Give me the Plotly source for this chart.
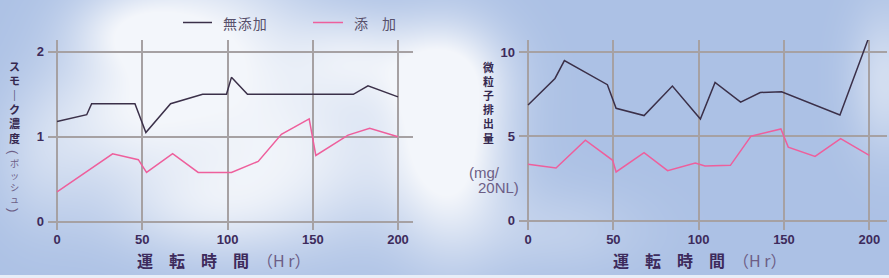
import base64
import struct
import zlib

import numpy as np
import plotly.graph_objects as go

W, H = 889, 278

# ---- data ----
hours_smoke_base = [0, 17.4, 20.3, 45.7, 52.1, 66.6, 85.4, 99.4, 102.3, 111.7, 173.8, 182.4, 200]
smoke_base = [1.18, 1.26, 1.39, 1.39, 1.05, 1.39, 1.50, 1.50, 1.70, 1.50, 1.50, 1.60, 1.47]
hours_smoke_add = [0, 32.6, 47.7, 52.5, 67.8, 82.8, 102.3, 118, 131.6, 147.9, 151.8, 170.7, 183.4, 200]
smoke_add = [0.35, 0.80, 0.73, 0.58, 0.80, 0.58, 0.58, 0.71, 1.03, 1.21, 0.78, 1.02, 1.10, 1.00]

hours_pm_base = [0, 15.8, 21.3, 46.5, 51.6, 68, 84.6, 101, 109.6, 124.6, 136.1, 148.6, 182.8, 200]
pm_base = [6.86, 8.43, 9.49, 8.06, 6.66, 6.23, 7.98, 6.03, 8.19, 7.03, 7.60, 7.64, 6.27, 10.94]
hours_pm_add = [0, 16.4, 33.6, 49.6, 51.6, 68, 81.8, 98, 103.7, 118.6, 130.7, 148.2, 152.5, 168.2, 183.2, 200]
pm_add = [3.34, 3.12, 4.77, 3.58, 2.89, 4.03, 2.97, 3.42, 3.24, 3.28, 5.01, 5.44, 4.36, 3.81, 4.87, 3.87]

x_ticks = [0, 50, 100, 150, 200]
smoke_ticks = [0, 1, 2]
pm_ticks = [0, 5, 10]
series_names = ["無添加", "添　加"]

BLACK = "#3b3049"
PINK = "#ee5f9c"
GRID = "#a6a1a3"
TICK = "#3d2b5c"
LIGHT = "#6c5e86"
DARK = "#35284f"


def px(x):
    return x / W


def py(y):
    return 1 - y / H


# ---- sky background image (decoration only) ----
def sky_png():
    yy, xx = np.mgrid[0:H, 0:W].astype(float)
    base = np.array([172, 193, 229], dtype=float)
    blobs = [
        (200, 40, 75, 55, 0.85), (120, 120, 55, 45, 0.55), (290, 150, 90, 60, 0.75),
        (200, 210, 70, 35, 0.45), (450, 150, 40, 70, 0.95), (440, 70, 45, 35, 0.6),
        (350, 55, 40, 30, 0.45), (885, 80, 25, 50, 0.5), (40, 160, 35, 50, 0.3),
        (560, 230, 60, 30, 0.25), (130, 30, 40, 25, 0.4),
    ]
    a = np.zeros((H, W))
    for cx, cy, sx, sy, s in blobs:
        a += s * np.exp(-(((xx - cx) / sx) ** 2 + ((yy - cy) / sy) ** 2) / 2)
    a = np.clip(a, 0, 0.92)
    img = base[None, None, :] * (1 - a[..., None]) + np.array([250, 251, 253])[None, None, :] * a[..., None]
    img[275:, :, :] = [232, 238, 248]
    img = np.clip(img, 0, 255).astype(np.uint8)
    raw = b"".join(b"\x00" + img[r].tobytes() for r in range(H))

    def chunk(tag, data):
        c = struct.pack(">I", len(data)) + tag + data
        return c + struct.pack(">I", zlib.crc32(tag + data) & 0xFFFFFFFF)

    png = b"\x89PNG\r\n\x1a\n" + chunk(b"IHDR", struct.pack(">IIBBBBB", W, H, 8, 2, 0, 0, 0))
    png += chunk(b"IDAT", zlib.compress(raw, 9)) + chunk(b"IEND", b"")
    return "data:image/png;base64," + base64.b64encode(png).decode()


fig = go.Figure()
fig.add_trace(go.Scatter(x=hours_smoke_base, y=smoke_base, mode="lines", name=series_names[0],
                         line=dict(color=BLACK, width=1.5), xaxis="x", yaxis="y"))
fig.add_trace(go.Scatter(x=hours_smoke_add, y=smoke_add, mode="lines", name=series_names[1],
                         line=dict(color=PINK, width=1.5), xaxis="x", yaxis="y"))
fig.add_trace(go.Scatter(x=hours_pm_base, y=pm_base, mode="lines", name=series_names[0],
                         line=dict(color=BLACK, width=1.5), xaxis="x2", yaxis="y2"))
fig.add_trace(go.Scatter(x=hours_pm_add, y=pm_add, mode="lines", name=series_names[1],
                         line=dict(color=PINK, width=1.5), xaxis="x2", yaxis="y2"))

tickfont = dict(family="Liberation Sans", size=13, color=TICK, weight="bold")
common_x = dict(tickvals=x_ticks, showgrid=True, gridcolor=GRID, gridwidth=2, zeroline=False,
                showline=False, ticks="", tickfont=tickfont)
common_y = dict(showgrid=True, gridcolor=GRID, gridwidth=2, zeroline=False, showline=False,
                ticks="", tickfont=tickfont, ticklabelstandoff=3)

ydom = [py(230), py(40)]
fig.update_layout(
    width=W, height=H,
    margin=dict(l=0, r=0, t=0, b=0),
    paper_bgcolor="#b0c4e6",
    plot_bgcolor="rgba(0,0,0,0)",
    showlegend=False,
    images=[dict(source=sky_png(), xref="paper", yref="paper", x=0, y=1, sizex=1, sizey=1,
                 xanchor="left", yanchor="top", sizing="stretch", layer="below")],
    xaxis=dict(domain=[px(48), px(413)], range=[-5.3, 208.8], anchor="y", **common_x),
    yaxis=dict(domain=ydom, range=[-0.098, 2.14], tickvals=smoke_ticks, anchor="x", **common_y),
    xaxis2=dict(domain=[px(519), px(886.7)], range=[-5.3, 210.2], anchor="y2", **common_x),
    yaxis2=dict(domain=ydom, range=[-0.55, 10.71], tickvals=pm_ticks, anchor="x2", **common_y),
)

shapes = []
annotations = []

# legend keys
legend_items = [(183, 212, BLACK, 221, "無\u200a添\u200a加"), (313, 343, PINK, 352, "添　加")]
for x0, x1, col, tx, label in legend_items:
    shapes.append(dict(type="line", xref="paper", yref="paper", x0=px(x0), x1=px(x1),
                       y0=py(22.5), y1=py(22.5), line=dict(color=col, width=1.5)))
    annotations.append(dict(text=label, xref="paper", yref="paper", x=px(tx), y=py(23),
                            xanchor="left", yanchor="middle", showarrow=False,
                            font=dict(family="Noto Sans CJK JP", size=14, color="#57506a")))

# x-axis titles
for x0 in (135, 611):
    annotations.append(dict(
        text="<b>運　転　時　間</b>　<span style='color:%s'>（H r）</span>" % LIGHT,
        xref="paper", yref="paper", x=px(x0), y=py(260), xanchor="left", yanchor="middle",
        showarrow=False, font=dict(family="Noto Sans CJK JP", size=16, color=TICK)))


def vtext(chars, cx, ymid, color, pitch, bold):
    txt = "<br>".join(("<b>%s</b>" % c) if bold else c for c in chars)
    annotations.append(dict(text=txt, xref="paper", yref="paper", x=px(cx), y=py(ymid),
                            xanchor="center", yanchor="middle", showarrow=False,
                            font=dict(family="Noto Sans CJK JP", size=pitch / 1.3, color=color)))


vtext(["ス", "モ", "｜", "ク", "濃", "度"], 14, 102, DARK, 14.3, True)
vtext(["ボ", "ッ", "シ", "ュ"], 14, 181, LIGHT, 12.0, False)
vtext(["微", "粒", "子", "排", "出", "量"], 488, 102.5, DARK, 14.1, True)

# vertical-writing parentheses: ordinary parentheses turned a quarter turn
for ch, yc in (("(", 152), (")", 210)):
    annotations.append(dict(text=ch, xref="paper", yref="paper", x=px(14), y=py(yc),
                            xanchor="center", yanchor="middle", showarrow=False, textangle=90,
                            font=dict(family="Liberation Sans", size=13, color=LIGHT)))

annotations.append(dict(text="(mg/", xref="paper", yref="paper", x=px(467), y=py(172),
                        xanchor="left", yanchor="middle", showarrow=False,
                        font=dict(family="Liberation Sans", size=15, color=LIGHT)))
annotations.append(dict(text="20NL)", xref="paper", yref="paper", x=px(476), y=py(187),
                        xanchor="left", yanchor="middle", showarrow=False,
                        font=dict(family="Liberation Sans", size=15, color=LIGHT)))

fig.update_layout(shapes=shapes, annotations=annotations)

fig.write_html("out.html")
